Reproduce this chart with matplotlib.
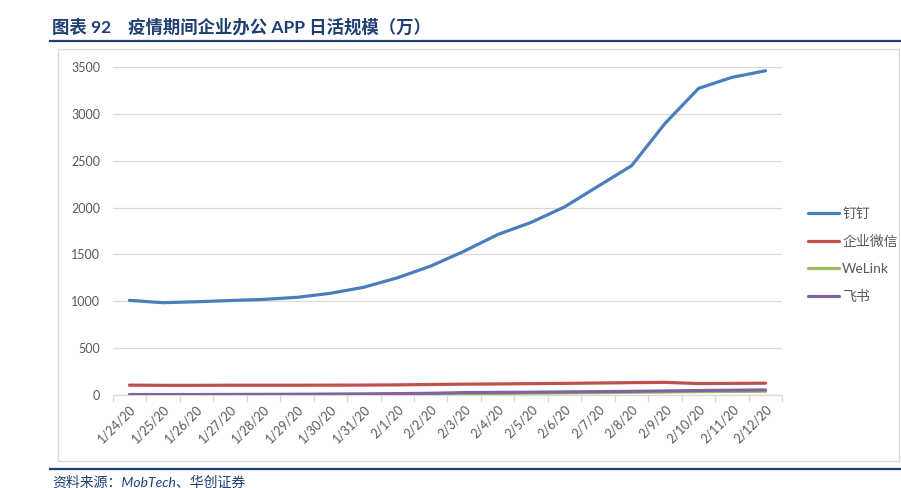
import matplotlib
matplotlib.use("Agg")
import matplotlib.pyplot as plt
from matplotlib.patches import Rectangle
from matplotlib.lines import Line2D

plt.rcParams['font.family'] = ['Lato', 'Noto Sans CJK SC', 'DejaVu Sans']

dates = ['1/24/20', '1/25/20', '1/26/20', '1/27/20', '1/28/20', '1/29/20', '1/30/20',
         '1/31/20', '2/1/20', '2/2/20', '2/3/20', '2/4/20', '2/5/20', '2/6/20',
         '2/7/20', '2/8/20', '2/9/20', '2/10/20', '2/11/20', '2/12/20']
dingding = [1010, 985, 995, 1008, 1020, 1042, 1085, 1150, 1250, 1376,
            1535, 1712, 1842, 2008, 2228, 2447, 2899, 3272, 3390, 3460]
wework = [105, 103, 103, 104, 104, 104, 105, 106, 108, 112,
          116, 118, 121, 124, 128, 132, 135, 122, 124, 126]
welink = [0, 0, 0, 0, 0, 0, 0, 0, 0, 0,
          14, 17, 20, 23, 26, 29, 32, 36, 38, 40]
feishu = [5, 5, 5, 6, 7, 8, 10, 12, 15, 18,
          26, 28, 30, 33, 36, 39, 43, 48, 51, 54]
series_names = ['钉钉', '企业微信', 'WeLink', '飞书']
colors = ['#4A7EBB', '#C0504D', '#9BBB59', '#8064A2']
yticks = [0, 500, 1000, 1500, 2000, 2500, 3000, 3500]

W, H = 901, 488
fig = plt.figure(figsize=(W / 100, H / 100), dpi=100)

ax = fig.add_axes([112.7 / W, (H - 395) / H, (782.3 - 112.7) / W, 328 / H])
x = list(range(len(dates)))
for vals, c, name in zip([dingding, wework, welink, feishu], colors, series_names):
    ax.plot(x, vals, color=c, lw=2.3, label=name, solid_capstyle='round', zorder=3)

ax.set_xlim(-0.5, len(dates) - 0.5)
ax.set_ylim(0, 3500)
ax.set_yticks(yticks)
ax.set_yticklabels([str(v) for v in yticks], fontsize=9, color='#595959')
ax.yaxis.grid(True, color='#D9D9D9', lw=0.9)
ax.set_axisbelow(True)
ax.tick_params(axis='y', length=0, pad=9)

ax.set_xticks(x)
ax.set_xticklabels(dates, rotation=45, ha='right', va='top', rotation_mode='anchor',
                   fontsize=9, color='#595959')
ax.set_xticks([i - 0.5 for i in range(len(dates) + 1)], minor=True)
ax.tick_params(axis='x', which='major', length=0, pad=6)
ax.tick_params(axis='x', which='minor', length=5, color='#D9D9D9', width=0.9)
for s in ['top', 'right', 'left']:
    ax.spines[s].set_visible(False)
ax.spines['bottom'].set_color('#D9D9D9')
ax.spines['bottom'].set_linewidth(0.9)

leg = fig.legend(loc='upper left', bbox_to_anchor=(795 / W, 1 - 195 / H), frameon=False,
                 fontsize=10, handlelength=2.3, handletextpad=0.2, labelspacing=1.08,
                 labelcolor='#595959')

# Chart border box
fig.patches.append(Rectangle((58 / W, (H - 461) / H), (899 - 58) / W, (461 - 49) / H,
                             transform=fig.transFigure, fill=False, edgecolor='#D9D9D9', lw=1))

# Title and rules
navy = '#1F3F73'
fig.text(52 / W, 1 - 27 / H, '图表 92    疫情期间企业办公 APP 日活规模（万）', fontsize=12.5,
         fontweight='bold', color=navy, va='center', ha='left')
fig.add_artist(Line2D([50 / W, 1.0], [1 - 41 / H, 1 - 41 / H], color=navy, lw=1.6,
                      transform=fig.transFigure))
fig.add_artist(Line2D([50 / W, 1.0], [1 - 469 / H, 1 - 469 / H], color=navy, lw=1.6,
                      transform=fig.transFigure))
fig.text(52 / W, 1 - 482 / H, '资料来源：MobTech、华创证券', fontsize=10, style='italic',
         color=navy, va='center', ha='left')

fig.savefig('out.png', dpi=100)
